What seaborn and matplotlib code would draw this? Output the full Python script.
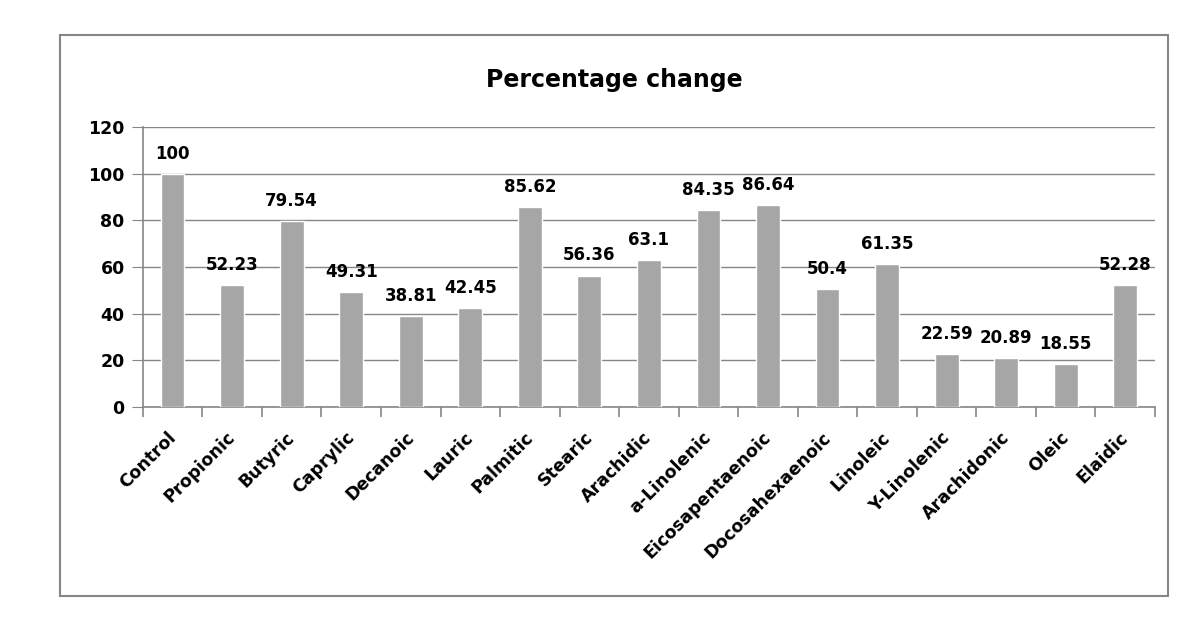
import numpy as np
import pandas as pd
import matplotlib.pyplot as plt
import matplotlib.transforms as mtransforms
import seaborn as sns
from matplotlib.patches import Rectangle

# ------------------------------
# Data
# ------------------------------
acids = ["Control", "Propionic", "Butyric", "Caprylic", "Decanoic", "Lauric",
         "Palmitic", "Stearic", "Arachidic", "a-Linolenic", "Eicosapentaenoic",
         "Docosahexaenoic", "Linoleic", "Y-Linolenic", "Arachidonic", "Oleic", "Elaidic"]
pct_change = [100, 52.23, 79.54, 49.31, 38.81, 42.45, 85.62, 56.36, 63.1,
              84.35, 86.64, 50.4, 61.35, 22.59, 20.89, 18.55, 52.28]
value_labels = ["100", "52.23", "79.54", "49.31", "38.81", "42.45", "85.62", "56.36", "63.1",
                "84.35", "86.64", "50.4", "61.35", "22.59", "20.89", "18.55", "52.28"]

df = pd.DataFrame({"acid": acids, "pct": pct_change})

sns.set_style("white")
plt.rcParams["font.family"] = ["DejaVu Sans"]
plt.rcParams["text.color"] = "black"
plt.rcParams["xtick.color"] = "black"
plt.rcParams["ytick.color"] = "black"

grey = "#868686"

fig = plt.figure(figsize=(12, 6.32), dpi=100)
ax = fig.add_axes([0.119, 0.356, 0.8435, 0.443])

sns.barplot(data=df, x="acid", y="pct", color="#a6a6a6", width=0.4,
            saturation=1, ax=ax, zorder=3)

# value labels above bars
ax.bar_label(ax.containers[0], labels=value_labels, padding=8,
             fontsize=12, fontweight="bold", color="black")

# axes styling
ax.set_ylim(0, 120)
ax.set_yticks(np.arange(0, 121, 20))
ax.set_xlim(-0.5, len(acids) - 0.5)
ax.yaxis.grid(True, color=grey, lw=1, zorder=0)
ax.set_axisbelow(True)
for s in ["top", "right"]:
    ax.spines[s].set_visible(False)
for s in ["left", "bottom"]:
    ax.spines[s].set_color(grey)
    ax.spines[s].set_linewidth(1.2)

ax.set_xlabel("")
ax.set_ylabel("")
ax.tick_params(axis="y", which="major", left=True, length=8, color=grey,
               labelcolor="black", labelsize=12.5, pad=5)
for t in ax.get_yticklabels():
    t.set_fontweight("bold")

# x tick marks sit on category boundaries; labels on bar centres
ax.set_xticks(np.arange(len(acids) + 1) - 0.5, minor=True)
ax.tick_params(axis="x", which="minor", bottom=True, length=7, color=grey, width=1.2)
ax.tick_params(axis="x", which="major", bottom=False, labelsize=12.5, pad=12,
               labelcolor="black")
ax.set_xticks(range(len(acids)))
ax.set_xticklabels(acids, rotation=45, ha="right", rotation_mode="anchor",
                   fontweight="bold")
shift = mtransforms.ScaledTranslation(-6 / 100, 0, fig.dpi_scale_trans)
for t in ax.get_xticklabels():
    t.set_transform(t.get_transform() + shift)

# title and outer chart frame
fig.text(0.512, 0.873, "Percentage change", ha="center", va="center",
         fontsize=17, fontweight="bold", color="black")
fig.patches.append(Rectangle((0.05, 0.057), 0.923, 0.888, transform=fig.transFigure,
                             fill=False, edgecolor=grey, lw=1.5))

plt.savefig("out.png", dpi=100)
